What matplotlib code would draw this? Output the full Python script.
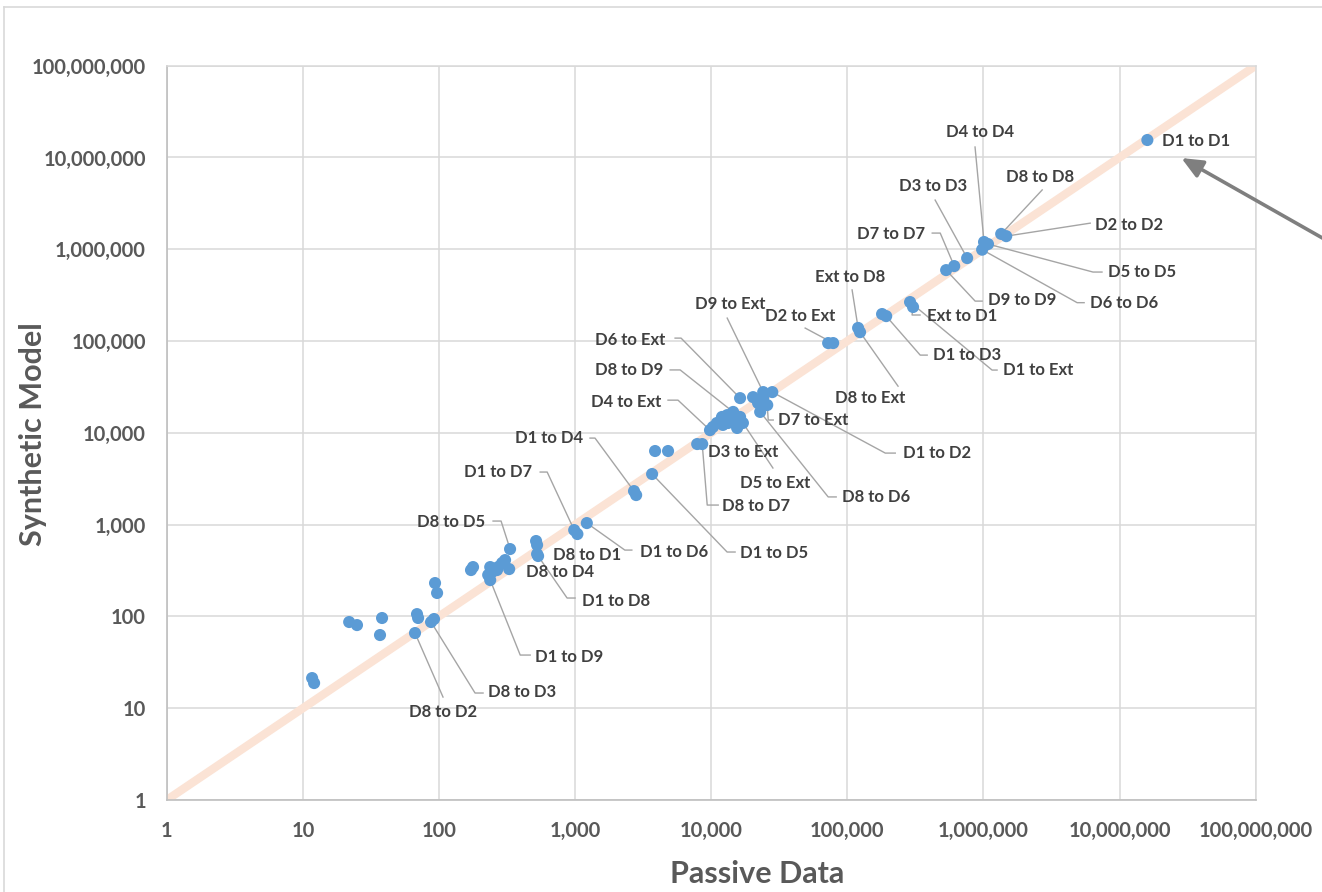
import matplotlib
matplotlib.use("Agg")
import matplotlib.pyplot as plt
from matplotlib.transforms import IdentityTransform
from matplotlib.lines import Line2D

plt.rcParams['font.family'] = ['Lato', 'DejaVu Sans']

# ---------------- data ----------------
labels = ['D1 to D1', 'D8 to D8', 'D2 to D2', 'D4 to D4', 'D5 to D5', 'D6 to D6',
          'D3 to D3', 'D7 to D7', 'D9 to D9', 'Ext to D1', 'D1 to Ext', 'D1 to D3',
          'Ext to D8', 'D8 to Ext', 'D2 to Ext', 'D6 to Ext', 'D9 to Ext', 'D1 to D2',
          'D7 to Ext', 'D8 to D6', 'D8 to D9', 'D4 to Ext', 'D5 to Ext', 'D3 to Ext',
          'D8 to D7', 'D1 to D5', 'D1 to D4', 'D1 to D6', 'D1 to D7', 'D8 to D1',
          'D8 to D4', 'D1 to D8', 'D8 to D5', 'D1 to D9', 'D8 to D3', 'D8 to D2']
passive = [1.60e7, 1.35e6, 1.47e6, 1.01e6, 1.08e6, 9.78e5,
           7.59e5, 6.10e5, 5.32e5, 3.04e5, 2.89e5, 1.93e5,
           1.20e5, 1.24e5, 7.87e4, 1.63e4, 2.41e4, 2.81e4,
           2.58e4, 2.29e4, 1.45e4, 9.8e3, 1.71e4, 7.89e3,
           8.59e3, 3.68e3, 2.71e3, 1.22e3, 985, 517,
           526, 535, 333, 238, 87.5, 66.7]
synthetic = [1.55e7, 1.47e6, 1.39e6, 1.20e6, 1.14e6, 9.9e5,
             8.02e5, 6.56e5, 5.93e5, 2.35e5, 2.66e5, 1.87e5,
             1.39e5, 1.25e5, 9.51e4, 2.39e4, 2.78e4, 2.78e4,
             2.01e4, 1.69e4, 1.69e4, 1.07e4, 1.28e4, 7.55e3,
             7.55e3, 3.56e3, 2.32e3, 1.04e3, 873, 663,
             478, 455, 542, 249, 86.9, 65.9]

# unlabelled flows
other_passive = [1.80e5, 7.23e4, 2.03e4, 2.21e4, 2.41e4, 1.10e4, 1.20e4, 1.31e4,
                 1.22e4, 1.42e4, 1.63e4, 1.55e4, 1.33e4, 1.03e4, 3.87e3, 4.82e3,
                 2.81e3, 1.04e3, 526, 172, 178, 238, 246, 230, 267, 291, 306, 328,
                 272, 93.6, 96.9, 21.9, 25.0, 38.2, 36.9, 69.0, 70.3, 92.0, 11.7, 12.1]
other_synthetic = [1.97e5, 9.51e4, 2.45e4, 2.11e4, 2.39e4, 1.28e4, 1.49e4, 1.56e4,
                   1.22e4, 1.38e4, 1.49e4, 1.13e4, 1.28e4, 1.16e4, 6.34e3, 6.34e3,
                   2.10e3, 790, 600, 320, 345, 345, 305, 283, 320, 382, 411, 328,
                   345, 231, 180, 86.9, 80.5, 96.1, 62.7, 106, 96.1, 93.7, 21.3, 18.8]

ticks = [1, 10, 100, 1e3, 1e4, 1e5, 1e6, 1e7, 1e8]
tick_labels = ['1', '10', '100', '1,000', '10,000', '100,000', '1,000,000',
               '10,000,000', '100,000,000']
parity = [1, 1e8]

# ---------------- layout (pixel offsets of labels / leader lines) ----------------
LAYOUT = {
    'D1 to D1': ((15, 1), 'left', []),
    'D4 to D4': ((-4, -110), 'center', [(-9, -95)]),
    'D8 to D8': ((39, -57), 'center', [(41, -44)]),
    'D3 to D3': ((-34, -72), 'center', [(-32, -58)]),
    'D2 to D2': ((89, -11), 'left', [(84, -13)]),
    'D7 to D7': ((-29, -32), 'right', [(-14, -33), (-22, -33)]),
    'D5 to D5': ((120, 28), 'left', [(105, 28), (114, 28)]),
    'D6 to D6': ((108, 53), 'left', [(95, 53), (102, 53)]),
    'D9 to D9': ((42, 30), 'left', [(29, 31), (36, 31)]),
    'Ext to D1': ((14, 9), 'left', [(-1, 8), (7, 8)]),
    'D1 to Ext': ((93, 68), 'left', [(82, 68), (87, 68)]),
    'D1 to D3': ((47, 39), 'left', [(34, 39), (41, 39)]),
    'Ext to D8': ((-8, -51), 'center', [(-6, -38)]),
    'D8 to Ext': ((10, 66), 'center', [(38, 54)]),
    'D2 to Ext': ((-33, -27), 'center', [(-28, -15)]),
    'D9 to Ext': ((-33, -88), 'center', [(-36, -74)]),
    'D6 to Ext': ((-75, -58), 'right', [(-59, -60), (-65, -60)]),
    'D8 to D9': ((-70, -42), 'right', [(-53, -42), (-63, -42)]),
    'D4 to Ext': ((-49, -28), 'right', [(-32, -30), (-42, -30)]),
    'D7 to Ext': ((11, 15), 'left', [(1, 15), (6, 15)]),
    'D1 to D2': ((131, 61), 'left', [(113, 61), (123, 61)]),
    'D8 to D6': ((82, 85), 'left', [(68, 85), (76, 85)]),
    'D3 to Ext': ((11, 8), 'left', []),
    'D5 to Ext': ((32, 60), 'center', [(30, 45)]),
    'D8 to D7': ((20, 62), 'left', [(5, 61), (16, 61)]),
    'D1 to D5': ((88, 79), 'left', [(75, 78), (83, 78)]),
    'D1 to D4': ((-51, -53), 'right', [(-39, -53), (-44, -53)]),
    'D1 to D6': ((53, 29), 'left', [(38, 27), (45, 27)]),
    'D1 to D7': ((-42, -58), 'right', [(-27, -58), (-34, -58)]),
    'D8 to D1': ((17, 14), 'left', []),
    'D8 to D4': ((-11, 18), 'left', []),
    'D1 to D8': ((44, 45), 'left', [(29, 42), (37, 42)]),
    'D8 to D5': ((-25, -27), 'right', [(-9, -28), (-17, -28)]),
    'D1 to D9': ((45, 77), 'left', [(30, 75), (40, 75)]),
    'D8 to D3': ((57, 70), 'left', [(44, 71), (52, 71)]),
    'D8 to D2': ((28, 79), 'center', [(28, 64)]),
}

W, H = 1322, 892
fig = plt.figure(figsize=(W / 100, H / 100), dpi=100)
fig.patch.set_facecolor('white')
ax = fig.add_axes([166.7 / W, 1 - 800 / H, (1255.7 - 166.7) / W, (800 - 65.7) / H])

ax.set_xscale('log')
ax.set_yscale('log')
ax.set_xlim(1, 1e8)
ax.set_ylim(1, 1e8)
ax.set_xticks(ticks, tick_labels)
ax.set_yticks(ticks, tick_labels)
ax.minorticks_off()
ax.tick_params(length=0, pad=15, labelsize=14.5, labelcolor='#595959')
for t in ax.get_xticklabels() + ax.get_yticklabels():
    t.set_fontweight('bold')
ax.grid(True, color='#d9d9d9', lw=1.1)
ax.set_axisbelow(True)
for s in ['top', 'right']:
    ax.spines[s].set_color('#d9d9d9')
    ax.spines[s].set_linewidth(1.1)
for s in ['left', 'bottom']:
    ax.spines[s].set_color('#bfbfbf')
    ax.spines[s].set_linewidth(1.2)

ax.set_xlabel('Passive Data', fontsize=22, fontweight='bold', color='#595959')
ax.set_ylabel('Synthetic Model', fontsize=22, fontweight='bold', color='#595959')
ax.xaxis.label.set_va('center')
ax.yaxis.label.set_va('center')
ax.xaxis.set_label_coords((757 - 166.7) / 1089, -(874 - 800) / 734.3)
ax.yaxis.set_label_coords((33 - 166.7) / 1089, (800 - 434) / 734.3)

# parity line
ax.plot(parity, parity, color='#FBE3D5', lw=6, solid_capstyle='butt', zorder=2)

# points
ax.scatter(other_passive, other_synthetic, s=76, color='#5B9BD5', edgecolors='none', zorder=3)
ax.scatter(passive, synthetic, s=76, color='#5B9BD5', edgecolors='none', zorder=3)

# labels with leader lines (display pixels)
ident = IdentityTransform()
for name, x, y in zip(labels, passive, synthetic):
    (tx, ty), ha, path = LAYOUT[name]
    px, py = ax.transData.transform((x, y))
    if path:
        xs = [px] + [px + dx for dx, dy in path]
        ys = [py] + [py - dy for dx, dy in path]
        ax.add_line(Line2D(xs, ys, transform=ident, color='#a5a5a5', lw=1.0,
                           zorder=2.5, clip_on=False))
    ax.text(px + tx, py - ty, name, transform=ident, ha=ha, va='center',
            fontsize=12, fontweight='bold', color='#404040', zorder=5)

# arrow pointing to the D1 to D1 flow
d1x, d1y = ax.transData.transform((passive[0], synthetic[0]))
tip = (d1x + 34, d1y - 18)
ax.annotate('', xy=tip, xycoords=ident, xytext=(tip[0] + 179, tip[1] - 101.5),
            textcoords=ident, annotation_clip=False,
            arrowprops=dict(arrowstyle='-|>,head_length=0.8,head_width=0.35',
                            mutation_scale=16, color='#7f7f7f', lw=2.6,
                            shrinkA=0, shrinkB=0))

# chart border (partially visible)
fig.add_artist(Line2D([4 / W, 4 / W], [0, 1 - 6.7 / H], transform=fig.transFigure,
                      color='#d9d9d9', lw=1.2))
fig.add_artist(Line2D([4 / W, 1], [1 - 6.7 / H, 1 - 6.7 / H], transform=fig.transFigure,
                      color='#d9d9d9', lw=1.2))

fig.savefig('out.png', dpi=100, facecolor='white')
